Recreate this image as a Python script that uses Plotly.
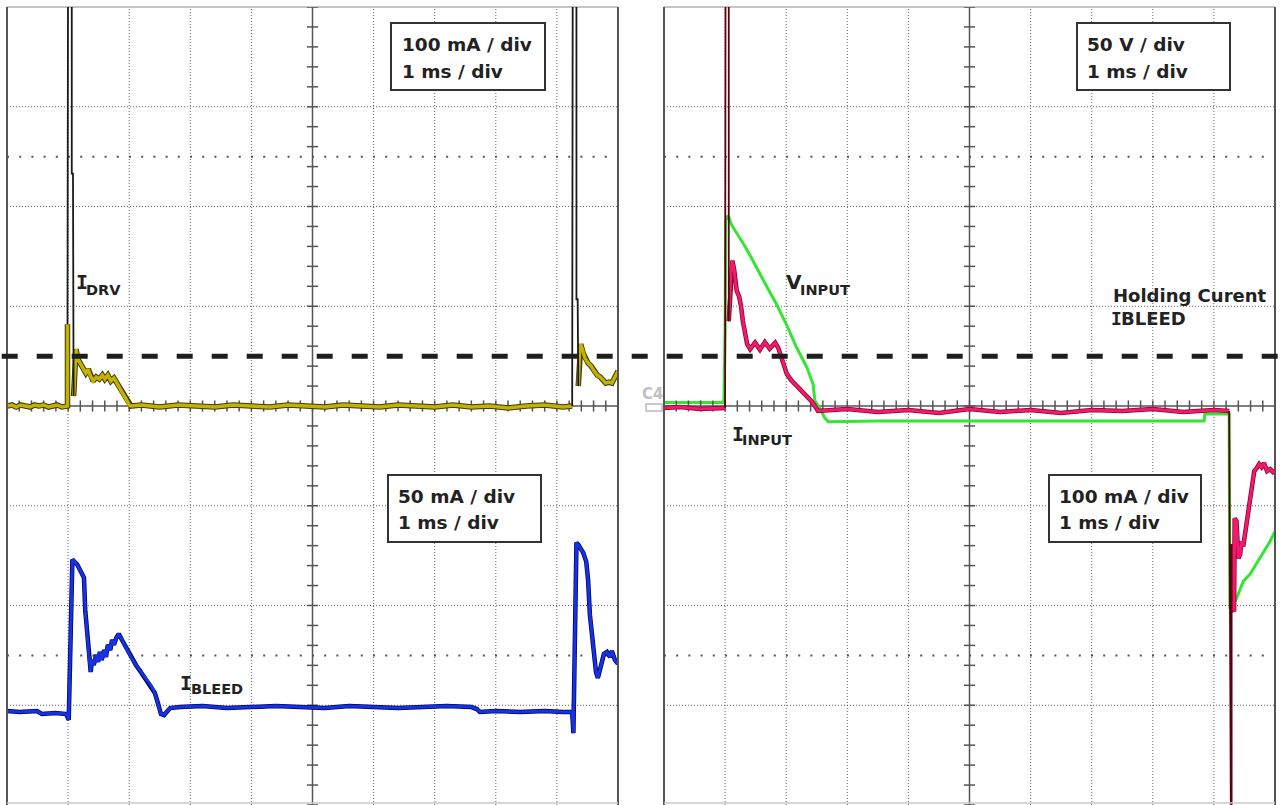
import numpy as np
import plotly.graph_objects as go

W, H = 1282, 805

# ---------------- data (time in ms from left edge of each screen) ----------------
# Left screen, top trace: I_DRV (100 mA/div)
IDRV_T = [0.00, 0.08, 0.15, 0.22, 0.30, 0.38, 0.45, 0.52, 0.60, 0.68, 0.75, 0.82, 0.90, 0.98,
          0.99, 0.99, 1.00, 1.06, 1.06, 1.08, 1.09, 1.11, 1.13,
          1.16, 1.20, 1.24, 1.29, 1.33, 1.36, 1.41, 1.46, 1.51, 1.56, 1.60, 1.65, 1.70, 1.75,
          1.80, 1.85, 1.90, 1.95, 2.00, 2.03,
          2.2, 2.5, 2.8, 3.1, 3.4, 3.7, 4.0, 4.3, 4.6, 4.9, 5.2, 5.5, 5.8, 6.1, 6.4, 6.7, 7.0,
          7.3, 7.6, 7.9, 8.2, 8.5, 8.8, 9.1, 9.24,
          9.25, 9.26, 9.32, 9.32, 9.34, 9.35, 9.37, 9.39, 9.43, 9.46, 9.51, 9.56, 9.61, 9.66,
          9.71, 9.76, 9.80, 9.85, 9.90, 9.95, 10.0]
IDRV_MA = [0, 1, -1, 1, 0, -1, 1, 0, 1, -1, 0, 1, -1, 0,
           0, 82, 480, 480, 233, 233, 10, 45, 57,
           47, 43, 39, 33, 37, 31, 25, 29, 27, 31, 27, 31, 25, 28,
           23, 17, 12, 7, 1, 0,
           1, -1, 1, 0, -1, 1, 0, -1, 1, 0, -1, 1, 0, -1, 1, 0, -1,
           1, -1, 0, -2, 0, 1, -1, 0,
           0, 480, 480, 107, 107, 20, 55, 62, 53, 48, 43, 40, 35, 31,
           29, 25, 23, 24, 23, 29, 35]

# Left screen, bottom trace: I_BLEED (50 mA/div)
IBLEED_T = [0.00, 0.21, 0.49, 0.57, 0.79, 0.97,
            1.01, 1.02, 1.05, 1.07, 1.10, 1.15, 1.21, 1.26, 1.28, 1.31,
            1.34, 1.37, 1.39, 1.42, 1.46, 1.49, 1.52, 1.55, 1.59, 1.62,
            1.65, 1.69, 1.72, 1.75, 1.79, 1.83, 1.88, 1.95, 2.03, 2.11,
            2.19, 2.27, 2.36, 2.42, 2.47, 2.52, 2.57, 2.62, 2.67, 2.83,
            3.2, 3.6, 4.0, 4.4, 4.8, 5.2, 5.6, 6.0, 6.4, 6.8,
            7.2, 7.6, 7.69, 7.74, 8.0, 8.4, 8.8, 9.1, 9.24,
            9.25, 9.27, 9.28, 9.30, 9.32, 9.35, 9.38, 9.43, 9.48, 9.51,
            9.54, 9.57, 9.61, 9.64, 9.67, 9.71, 9.74, 9.77, 9.82, 9.87,
            9.90, 9.95, 10.0]
IBLEED_MA = [-2.0, -2.5, -2.0, -3.5, -3.0, -3.5,
             -6.5, 8.5, 53.8, 73.9, 72.9, 71.4, 67.8, 64.8, 48.7, 36.2,
             26.1, 17.6, 23.6, 21.1, 26.1, 22.6, 27.6, 23.6, 28.6, 25.1,
             31.2, 28.6, 33.7, 31.2, 34.7, 36.7, 33.7, 29.6, 25.1, 21.1,
             17.6, 14.1, 10.6, 7.0, 2.0, -3.5, -4.0, -2.5, -0.5, 0,
             0.5, -0.5, 0, 0.5, 0, -0.5, 0.5, 0, -0.5, 0,
             0.5, 0, -1, -2.5, -2, -2.5, -2, -2.5, -2.5,
             -2.5, -13.1, 3.5, 33.7, 82.4, 81.4, 79.9, 77.4, 72.9, 63.8,
             46.2, 36.2, 26.1, 17.6, 14.6, 19.6, 23.6, 26.6, 27.6, 25.1,
             28.1, 23.6, 21.6]

# Right screen: I_INPUT (100 mA/div)
IINPUT_T = [0, 0.26, 0.59, 0.83, 0.98, 1.00,
            1.01, 1.06, 1.06, 1.07, 1.10, 1.12, 1.15, 1.17, 1.19, 1.23,
            1.26, 1.29, 1.33, 1.36, 1.41, 1.49, 1.57, 1.65, 1.73, 1.82,
            1.87, 1.91, 1.96, 2.01, 2.08, 2.16, 2.24, 2.32, 2.41, 2.47,
            2.52,
            3.0, 3.5, 4.0, 4.5, 5.0, 5.5, 6.0, 6.5, 7.0, 7.5, 8.0, 8.5, 9.0, 9.25,
            9.26, 9.29, 9.29, 9.30, 9.33, 9.34, 9.37, 9.40, 9.43, 9.45,
            9.48, 9.51, 9.54, 9.57, 9.59, 9.62, 9.66, 9.70, 9.74, 9.78,
            9.82, 9.87, 9.92, 9.97, 10.0]
IINPUT_MA = [-2, -1, -3, -2, -2, -2,
             600, 600, 85, 99.5, 137.7, 145.7, 135.7, 123.6, 115.6, 109.5,
             100.5, 85.4, 72.4, 62.3, 57.0, 63.5, 56.5, 64.0, 57.5, 63.5,
             58.3, 51.3, 43.2, 32.2, 26.1, 21.1, 16.1, 10.1, 5.0, 0,
             -5,
             -3, -6, -4, -7, -3, -6, -4, -7, -4, -5, -3, -6, -4, -5,
             -600, -600, -138.7, -203, -206, -112.6, -115.6, -152.8, -148.7, -135.7,
             -140.7, -128.6, -115.6, -103.5, -95.5, -82.4, -65.3, -62.3, -58.3, -61.3,
             -57.3, -65.3, -63.3, -66.3, -65.3]

# Right screen: V_INPUT (50 V/div)
VINPUT_T = [0, 0.98, 1.00, 1.01, 1.05, 1.11, 1.30, 1.41, 1.63, 1.84, 2.00, 2.17, 2.34,
            2.44, 2.47, 2.53, 2.63, 2.69,
            3.5, 5.0, 6.5, 8.84, 8.85, 9.25,
            9.26, 9.30, 9.37, 9.48, 9.59, 9.70, 9.81, 9.92, 10.0]
VINPUT_V = [1.7, 1.7, 37.7, 93.0, 95.5, 90.5, 81.3, 75.4, 62.8, 51.1, 41.1, 29.3, 19.3,
            10.9, 2.5, 0, -5.9, -7.9,
            -7.5, -7.5, -7.5, -7.5, -4.0, -4.0,
            -101, -101, -96.5, -87.9, -84.4, -78.9, -72.9, -67.8, -62.8]

HOLDING_MA = 50  # holding current level (dashed line)

assert len(IDRV_T) == len(IDRV_MA)
assert len(IBLEED_T) == len(IBLEED_MA)
assert len(IINPUT_T) == len(IINPUT_MA)
assert len(VINPUT_T) == len(VINPUT_V)

# ---------------- layout geometry ----------------
def px(x):
    return x / W

def py(y):
    return 1 - y / H

X_DOM_L = [px(7), px(618)]
X_DOM_R = [px(664), px(1275)]
Y_DOM = [0, py(7)]

fig = go.Figure()


def split_spikes(v, lim):
    """Main line without the fast spike excursions, and the excursions alone."""
    v = list(v)
    n = len(v)
    off = [abs(a) > lim for a in v]
    main = [None if off[i] else v[i] for i in range(n)]
    spike = [None] * n
    for i in range(n):
        if off[i]:
            for j in (i - 1, i, i + 1):
                if 0 <= j < n:
                    spike[j] = v[j]
    return main, spike


def add_signal(x, y, xa, ya, lim, color, width, outline=None, owidth=None, spike_color=None):
    main, spike = split_spikes(y, lim)
    if outline:
        fig.add_trace(go.Scatter(x=x, y=main, xaxis=xa, yaxis=ya, mode="lines",
                                 line=dict(color=outline, width=owidth),
                                 hoverinfo="skip", showlegend=False))
    fig.add_trace(go.Scatter(x=x, y=main, xaxis=xa, yaxis=ya, mode="lines",
                             line=dict(color=color, width=width),
                             hoverinfo="skip", showlegend=False))
    if any(s is not None for s in spike):
        fig.add_trace(go.Scatter(x=x, y=spike, xaxis=xa, yaxis=ya, mode="lines",
                                 line=dict(color=spike_color or outline or color, width=1.8),
                                 hoverinfo="skip", showlegend=False))


# graticule tick marks on the centre lines
tick_t = np.round(np.arange(0, 10.0001, 0.2), 3)
tick_v = np.arange(-400, 400.001, 20)
for xa, ya in (("x", "y"), ("x2", "y4")):
    fig.add_trace(go.Scatter(x=tick_t, y=np.zeros_like(tick_t), xaxis=xa, yaxis=ya,
                             mode="markers", hoverinfo="skip", showlegend=False,
                             marker=dict(symbol="line-ns", size=8,
                                         line=dict(width=1.5, color="#555"))))
    fig.add_trace(go.Scatter(x=np.full_like(tick_v, 5.0), y=tick_v, xaxis=xa, yaxis=ya,
                             mode="markers", hoverinfo="skip", showlegend=False,
                             marker=dict(symbol="line-ew", size=8,
                                         line=dict(width=1.5, color="#555"))))

# signals
add_signal(IDRV_T, IDRV_MA, "x", "y", 100, "#c4b200", 3.5, "#403a00", 5.5, "#1a1a1a")
add_signal(IBLEED_T, IBLEED_MA, "x", "y2", 1000, "#1432e6", 3, "#00005a", 4.5)
add_signal(VINPUT_T, VINPUT_V, "x2", "y3", 200, "#33e633", 3)
add_signal(IINPUT_T, IINPUT_MA, "x2", "y4", 400, "#f01a6e", 3, "#8a0025", 4.5, "#5a0010")

shapes = []
# grid for both screens
for xr, yr in (("x domain", "y domain"), ("x2 domain", "y3 domain")):
    for k in range(1, 10):
        if k == 5:
            continue
        shapes.append(dict(type="line", xref=xr, yref=yr, x0=k / 10, x1=k / 10, y0=0, y1=1,
                           line=dict(color="#666", width=1, dash="1px,2px"), layer="below"))
    for k in range(1, 8):
        if k == 4:
            continue
        shapes.append(dict(type="line", xref=xr, yref=yr, x0=0, x1=1, y0=k / 8, y1=k / 8,
                           line=dict(color="#666", width=1, dash="1px,2px"), layer="below"))
    for f in (1.5 / 8, 6.5 / 8):
        shapes.append(dict(type="line", xref=xr, yref=yr, x0=0.0, x1=1, y0=f, y1=f,
                           line=dict(color="#555", width=2, dash="2px,10.2px"), layer="below"))
    # centre lines
    shapes.append(dict(type="line", xref=xr, yref=yr, x0=0.5, x1=0.5, y0=0, y1=1,
                       line=dict(color="#555", width=1.5), layer="below"))
    shapes.append(dict(type="line", xref=xr, yref=yr, x0=0, x1=1, y0=0.5, y1=0.5,
                       line=dict(color="#555", width=1.5), layer="below"))
    # frame
    shapes.append(dict(type="line", xref=xr, yref=yr, x0=0, x1=1, y0=1, y1=1,
                       line=dict(color="#b0b0b0", width=1.5), layer="below"))
    shapes.append(dict(type="line", xref=xr, yref=yr, x0=0, x1=0, y0=0, y1=1,
                       line=dict(color="#555", width=2), layer="above"))
    shapes.append(dict(type="line", xref=xr, yref=yr, x0=1, x1=1, y0=0, y1=1,
                       line=dict(color="#555", width=2), layer="above"))

# bottom frame lines
for a, b in ((7, 618), (664, 1275)):
    shapes.append(dict(type="line", xref="paper", yref="paper", x0=px(a), x1=px(b),
                       y0=py(803), y1=py(803), line=dict(color="#c8c8c8", width=1.5)))

# holding-current dashed line across the whole picture
shapes.append(dict(type="line", xref="paper", yref="y", x0=px(1.7), x1=1,
                   y0=HOLDING_MA, y1=HOLDING_MA,
                   line=dict(color="#1e1e1e", width=5, dash="16px,19px"), layer="above"))

# scale boxes
boxes = [(391, 23, 545, 90), (388, 475, 541, 542), (1077, 23, 1230, 90), (1049, 475, 1201, 542)]
for x0, y0, x1, y1 in boxes:
    shapes.append(dict(type="rect", xref="paper", yref="paper", x0=px(x0), x1=px(x1),
                       y0=py(y1), y1=py(y0), fillcolor="white",
                       line=dict(color="#333", width=2), layer="above"))

# channel marker on right screen
shapes.append(dict(type="rect", xref="paper", yref="paper", x0=px(646), x1=px(662),
                   y0=py(411), y1=py(404), fillcolor="white",
                   line=dict(color="#bbb", width=1.5)))

annotations = []


def label(text, x, y, size, family="DejaVu Sans", color="#222", bold=True):
    annotations.append(dict(x=px(x), y=py(y), xref="paper", yref="paper", text=text,
                            showarrow=False, xanchor="left", yanchor="middle", borderpad=0,
                            font=dict(family=family, size=size, color=color,
                                      weight="bold" if bold else "normal")))


BOX_TEXT = [("100 mA / div", 401, 45), ("1 ms / div", 401, 71.5),
            ("50 mA / div", 397, 496.5), ("1 ms / div", 397, 522),
            ("50 V / div", 1086, 45), ("1 ms / div", 1086, 71.5),
            ("100 mA / div", 1058, 496.5), ("1 ms / div", 1058, 522)]
for t, x, y in BOX_TEXT:
    label(t, x, y, 18.5)

MONO = "DejaVu Sans Mono"
label("I", 74.5, 282.5, 20, MONO)
label("DRV", 85, 289.5, 14.5)
label("I", 179, 682.5, 20, MONO)
label("BLEED", 190, 688.5, 14.5)
label("V", 785, 282.5, 20)
label("INPUT", 799, 289.5, 14.5)
label("I", 731, 434, 20, MONO)
label("INPUT", 740.5, 440, 14.5)
label("Holding Curent", 1112, 295, 18)
label("I", 1110, 318.5, 18, MONO)
label("BLEED", 1119.5, 318.5, 18)
label("C4", 641, 394, 15, "DejaVu Sans", "#c0c0c0")

fig.update_layout(
    width=W, height=H,
    margin=dict(l=0, r=0, t=0, b=0),
    paper_bgcolor="white", plot_bgcolor="white",
    hovermode=False, showlegend=False,
    xaxis=dict(domain=X_DOM_L, range=[0, 10], visible=False, anchor="y", fixedrange=True),
    xaxis2=dict(domain=X_DOM_R, range=[0, 10], visible=False, anchor="y3", fixedrange=True),
    yaxis=dict(domain=Y_DOM, range=[-400, 400], visible=False, anchor="x", fixedrange=True),
    yaxis2=dict(range=[-49.1, 350.9], overlaying="y", visible=False, anchor="x", fixedrange=True),
    yaxis3=dict(domain=Y_DOM, range=[-200, 200], visible=False, anchor="x2", fixedrange=True),
    yaxis4=dict(range=[-400, 400], overlaying="y3", visible=False, anchor="x2", fixedrange=True),
    shapes=shapes,
    annotations=annotations,
)

fig.write_html("out.html", config={"displayModeBar": False})
